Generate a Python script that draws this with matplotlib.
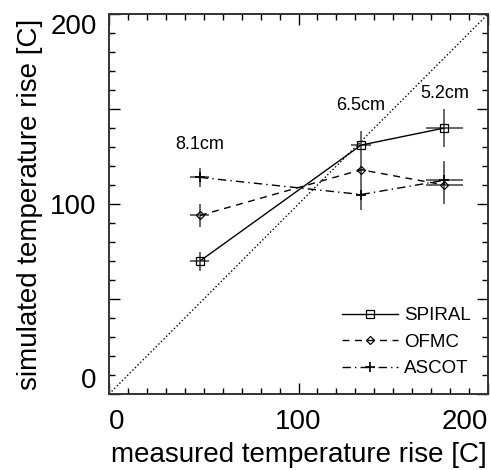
import matplotlib
matplotlib.use("Agg")
import numpy as np
import matplotlib.pyplot as plt
from matplotlib.ticker import FixedLocator, MultipleLocator

plt.rcParams["font.family"] = ["Liberation Sans", "DejaVu Sans"]

# measured rise (x) and simulated rise (y) for the three radii
measured = [48, 133, 177]
measured_err = [5, 5.5, 10]
measured_err_small = [5, 2, 10]
spiral = [70, 131, 140]
spiral_err = [5, 7.5, 10]
ofmc = [94, 118, 110]
ofmc_err = [6, 6, 10]
ascot = [114, 105, 112.5]
ascot_err = [5, 8, 10]
radius_labels = ["8.1cm", "6.5cm", "5.2cm"]
label_y = [131.5, 152, 158]

fig = plt.figure(figsize=(4.91, 4.70), dpi=100)
ax = fig.add_axes([0.222, 0.1617, 0.772, 0.8085])

ax.plot([0, 200], [0, 200], color="black", linestyle=":", linewidth=1)

ekw = dict(fmt="none", ecolor="0.4", elinewidth=1.4, capsize=0, zorder=2)
ax.errorbar(measured, spiral, xerr=measured_err, yerr=spiral_err, **ekw)
ax.errorbar(measured, ofmc, xerr=measured_err_small, yerr=ofmc_err, **ekw)
ax.errorbar(measured, ascot, xerr=measured_err_small, yerr=ascot_err, **ekw)

ax.plot(measured, spiral, color="black", linestyle="-", linewidth=1,
        marker="s", markersize=6, mfc="none", mec="black", mew=0.9,
        label="SPIRAL", zorder=3)
ax.plot(measured, ofmc, color="black", linestyle=(0, (5, 4)), linewidth=1,
        marker="D", markersize=4.5, mfc="none", mec="black", mew=0.9,
        label="OFMC", zorder=3)
ax.plot(measured, ascot, color="black", linestyle=(0, (6, 3, 1, 3)), linewidth=1,
        marker="+", markersize=7, mec="black", mew=1.2,
        label="ASCOT", zorder=3)

for xv, yv, txt in zip(measured, label_y, radius_labels):
    ax.text(xv, yv, txt, ha="center", va="center", fontsize=13)

ax.set_xlim(0, 200)
ax.set_ylim(0, 200)
ax.xaxis.set_major_locator(FixedLocator([0, 100, 200]))
ax.xaxis.set_minor_locator(MultipleLocator(10))
ax.yaxis.set_major_locator(FixedLocator([0, 50, 100, 150, 200]))
ax.yaxis.set_minor_locator(MultipleLocator(10))
ax.set_yticklabels(["0", "", "100", "", "200"])
ax.tick_params(which="both", direction="in", top=True, right=True,
               colors="black", labelsize=20)
ax.tick_params(which="major", length=8, width=1)
ax.tick_params(which="minor", length=4.5, width=1)
ax.tick_params(axis="x", pad=11)
ax.tick_params(axis="y", pad=9)
for sp in ax.spines.values():
    sp.set_linewidth(1.4)
    sp.set_color("0.2")

xl = ax.get_xticklabels()
xl[0].set_ha("left")
xl[-1].set_ha("right")
yl = ax.get_yticklabels()
yl[0].set_va("bottom")
yl[-1].set_va("top")

ax.set_xlabel("measured temperature rise [C]", fontsize=20, labelpad=5)
ax.set_ylabel("simulated temperature rise [C]", fontsize=20, labelpad=5)

ax.legend(loc="lower right", frameon=False, fontsize=13.5, handlelength=3.0,
          numpoints=1, labelspacing=0.5, handletextpad=0.35,
          bbox_to_anchor=(1.0, 0.0))

fig.savefig("out.png", dpi=100)
